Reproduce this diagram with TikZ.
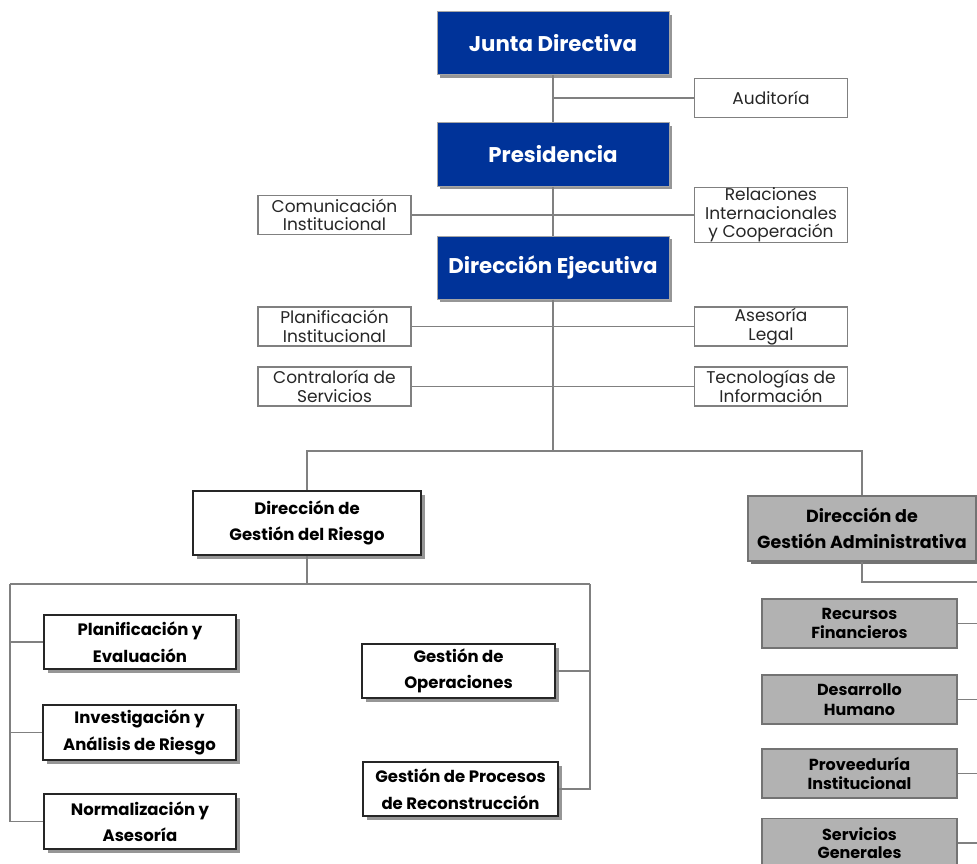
\documentclass[tikz,border=0pt]{standalone}
\usepackage{fontspec}
\setmainfont{Poppins}
\usetikzlibrary{shadows}
\definecolor{dblue}{RGB}{0,51,153}
\definecolor{lgray}{RGB}{128,128,128}
\definecolor{boxgray}{RGB}{178,178,178}
\definecolor{shgray}{RGB}{150,150,150}
\tikzset{
  conn/.style={draw=lgray, line width=1.3pt},
  bluebox/.style={draw=gray!70, line width=1pt, fill=dblue, text=white, font=\bfseries\fontsize{21.3}{24}\selectfont,
    minimum width=232pt, minimum height=63pt, inner sep=0pt, align=center,
    drop shadow={shadow xshift=3pt, shadow yshift=-3pt, fill=shgray, opacity=1}},
  smallbox/.style={draw=lgray, line width=1.2pt, fill=white, text=black!85, font=\fontsize{17}{18.5}\selectfont,
    minimum width=153pt, minimum height=39pt, inner sep=0pt, align=center},
  riskbox/.style={draw=black!85, line width=1.8pt, fill=white, text=black, font=\bfseries\fontsize{16.5}{26.5}\selectfont,
    minimum width=192pt, minimum height=54pt, inner sep=0pt, align=center,
    drop shadow={shadow xshift=3.5pt, shadow yshift=-3.5pt, fill=shgray, opacity=1}},
  admbox/.style={draw=black!55, line width=1.8pt, fill=boxgray, text=black, font=\bfseries\fontsize{16}{19.5}\selectfont,
    minimum width=195pt, minimum height=49pt, inner sep=0pt, align=center}
}
\begin{document}
\begin{tikzpicture}[x=1pt,y=-1pt]
\useasboundingbox (0,0) rectangle (977,864);
% top level
\node[bluebox] (junta) at (553,43.5) {Junta Directiva};
\node[bluebox] (pres) at (553,154.5) {Presidencia};
\node[bluebox] (dej) at (553,267.5) {Dirección Ejecutiva};
\node[smallbox] (aud) at (771,98) {Auditoría};
\node[smallbox] (com) at (334.5,215) {Comunicación\\Institucional};
\node[smallbox, minimum height=54pt] (rel) at (771,215) {Relaciones\\Internacionales\\y Cooperación};
\node[smallbox] (plan) at (334.5,326.5) {Planificación\\Institucional};
\node[smallbox] (ase) at (771,326.5) {Asesoría\\Legal};
\node[smallbox] (con) at (334.5,386.5) {Contraloría de\\Servicios};
\node[smallbox] (tec) at (771,386.5) {Tecnologías de\\Información};
\coordinate (split) at (553,451);
% second level
\node[riskbox, minimum width=228pt, minimum height=64pt] (rie) at (307,523) {Dirección de\\Gestión del Riesgo};
\node[admbox, minimum width=228pt, minimum height=65pt, font=\bfseries\fontsize{17.5}{26.5}\selectfont,
  drop shadow={shadow xshift=3pt, shadow yshift=-3pt, fill=black!55, opacity=1}] (adm) at (862,528.5) {Dirección de\\Gestión Administrativa};
% risk children
\node[riskbox] (pe) at (140,642) {Planificación y\\Evaluación};
\node[riskbox, minimum width=193pt, minimum height=55pt] (ia) at (139.5,732.5) {Investigación y\\Análisis de Riesgo};
\node[riskbox, minimum height=55pt] (na) at (140,821.5) {Normalización y\\Asesoría};
\node[riskbox, minimum width=193pt] (go) at (458.5,671) {Gestión de\\Operaciones};
\node[riskbox, minimum width=195pt] (gp) at (460.5,789) {Gestión de Procesos\\de Reconstrucción};
\coordinate (rl) at (10,584);
\coordinate (rr) at (590,584);
% admin children
\node[admbox] (rf) at (859.5,623.5) {Recursos\\Financieros};
\node[admbox] (dh) at (859.5,699.5) {Desarrollo\\Humano};
\node[admbox] (pi) at (859.5,773.5) {Proveeduría\\Institucional};
\node[admbox, font=\bfseries\fontsize{16}{18}\selectfont] (sg) at (859.5,843) {Servicios\\Generales};
\coordinate (ar) at (977,582);
% connectors
\draw[conn] (junta.south) -- (pres.north);
\draw[conn] (junta.south |- aud.west) -- (aud.west);
\draw[conn] (pres.south) -- (dej.north);
\draw[conn] (com.east) -- (rel.west);
\draw[conn] (plan.east) -- (ase.west);
\draw[conn] (con.east) -- (tec.west);
\draw[conn] (dej.south) -- (split);
\draw[conn] (rie.north) |- (split) -| (adm.north);
\draw[conn] (rie.south) -- (rie.south |- rl);
\draw[conn] (rl) -- (rr);
\draw[conn] (rl) |- (na.west);
\draw[conn] (pe.west -| rl) -- (pe.west);
\draw[conn] (ia.west -| rl) -- (ia.west);
\draw[conn] (rr) |- (gp.east);
\draw[conn] (go.east -| rr) -- (go.east);
\draw[conn] (adm.south) |- (ar);
\draw[conn] (rf.east) -- (rf.east -| ar);
\draw[conn] (dh.east) -- (dh.east -| ar);
\draw[conn] (pi.east) -- (pi.east -| ar);
\draw[conn] (sg.east) -- (sg.east -| ar);
\end{tikzpicture}
\end{document}
